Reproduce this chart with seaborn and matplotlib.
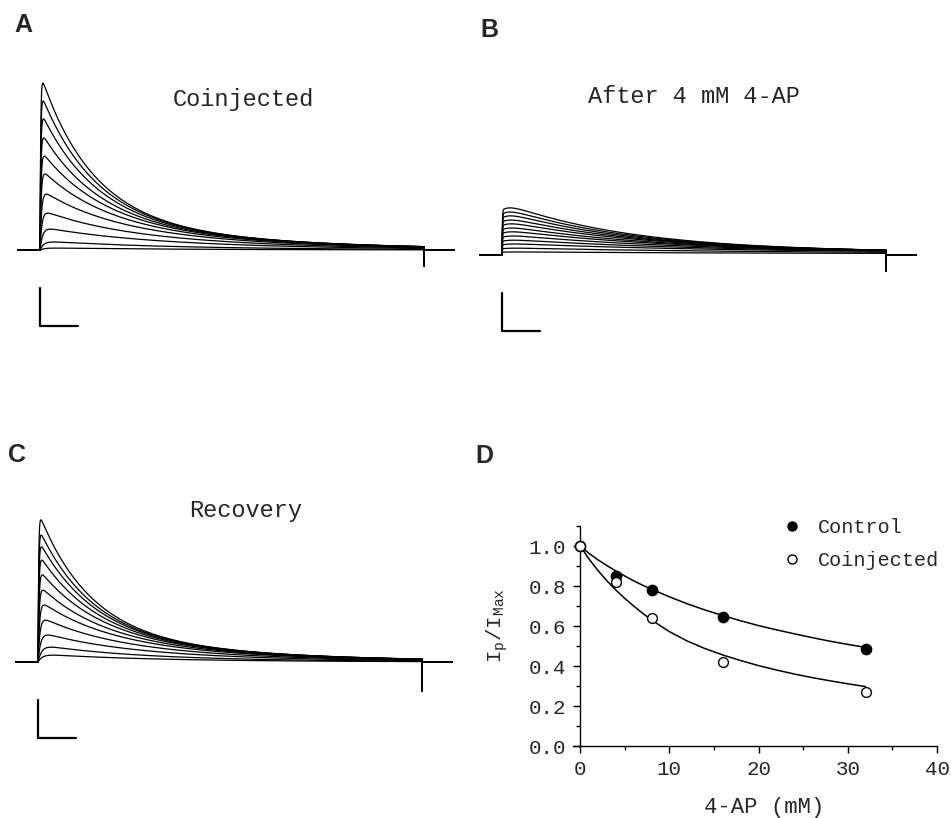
import numpy as np
import pandas as pd
import matplotlib
matplotlib.use("Agg")
import matplotlib.pyplot as plt
from matplotlib.lines import Line2D
from matplotlib.ticker import MultipleLocator, FormatStrFormatter
import seaborn as sns

# --- Panneaux A-C : familles de courants (uA), pulse de 500 ms ---
pulse_ms = 500
t_pre, t_post = -30, 540
bar_ms, bar_uA = 50, 1.0   # barre d'echelle

# A : Coinjected
peaks_A = [4.39, 3.92, 3.45, 2.95, 2.47, 2.0, 1.47, 0.97, 0.55, 0.21, 0.05]
rise_A = [0.8, 0.9, 1.0, 1.1, 1.3, 1.5, 2.0, 2.5, 3.5, 5.0, 6.0]
tau_A = [65, 67, 69, 71, 74, 77, 82, 88, 95, 105, 115]
slow_A = [1.0, 0.99, 0.97, 0.95, 0.92, 0.86, 0.76, 0.60, 0.42, 0.18, 0.045]
tau_slow_A = 200
cap_A = -0.42

# B : apres 4 mM 4-AP
peaks_B = [1.24, 1.13, 1.03, 0.92, 0.82, 0.71, 0.61, 0.50, 0.39, 0.29, 0.18, 0.08]
rise_B = [10] * 12
tau_B = [170, 175, 180, 190, 200, 210, 225, 240, 260, 280, 300, 320]
slow_B = [0.05, 0.05, 0.05, 0.05, 0.05, 0.05, 0.05, 0.05, 0.05, 0.05, 0.04, 0.03]
tau_slow_B = 1e9
cap_B = -0.42

# C : Recovery
peaks_C = [3.74, 3.34, 3.03, 2.68, 2.29, 1.89, 1.50, 1.10, 0.71, 0.39, 0.18]
rise_C = [0.8, 0.9, 1.0, 1.1, 1.3, 1.5, 2.0, 2.5, 3.5, 5.0, 6.0]
tau_C = [65, 67, 69, 71, 74, 77, 82, 88, 95, 105, 115]
slow_C = [0.86, 0.85, 0.83, 0.81, 0.78, 0.73, 0.65, 0.52, 0.38, 0.20, 0.10]
tau_slow_C = 200
cap_C = -0.76

# --- Panneau D : dose-reponse ---
conc = [0, 4, 8, 16, 32]
control = [1.0, 0.85, 0.78, 0.645, 0.485]
coinjected = [1.0, 0.82, 0.64, 0.42, 0.27]
fit_x = [0, 1, 2, 3, 4, 5, 6, 7, 8, 10, 12, 14, 16, 18, 20, 22, 24, 26, 28, 30, 32]
fit_control = [1.0, 0.963, 0.931, 0.902, 0.875, 0.85, 0.826, 0.804, 0.784, 0.746,
               0.711, 0.68, 0.652, 0.626, 0.602, 0.581, 0.561, 0.542, 0.524, 0.508, 0.493]
fit_coinj = [1.0, 0.935, 0.877, 0.826, 0.78, 0.738, 0.70, 0.664, 0.63, 0.572,
             0.525, 0.487, 0.455, 0.427, 0.402, 0.38, 0.36, 0.342, 0.326, 0.311, 0.297]


def sweep_family(peaks, rise, tau, slow, tau_slow, cap, jump=0.0):
    t = np.linspace(0, pulse_ms, 1001)
    rows = []
    for k, (p, tr, tf, s) in enumerate(zip(peaks, rise, tau, slow)):
        frac = min(s / p, 1.0)
        r = 1 - jump * np.exp(-t / 0.4) - (1 - jump) * np.exp(-t / tr)
        shape = r * ((1 - frac) * np.exp(-t / tf) + frac * np.exp(-t / tau_slow))
        cur = p * shape / shape.max()
        tt = np.concatenate([[t_pre, 0], t, [pulse_ms, pulse_ms, t_post]])
        ii = np.concatenate([[0, 0], cur, [cap, 0, 0]])
        rows.append(pd.DataFrame({"t": tt, "I": ii, "sweep": k}))
    return pd.concat(rows, ignore_index=True)


sns.set_theme(style="white")
plt.rcParams["font.family"] = ["Liberation Mono", "DejaVu Sans Mono"]
plt.rcParams["mathtext.fontset"] = "custom"
plt.rcParams["mathtext.rm"] = "Liberation Mono"

W, H = 951, 818
fig = plt.figure(figsize=(W / 100, H / 100), dpi=100)


def px_axes(x0, y0, x1, y1):
    return fig.add_axes([x0 / W, 1 - y1 / H, (x1 - x0) / W, (y1 - y0) / H])


px_per_uA = 38
ylo, yhi = -2.3, 4.7


def trace_panel(x_step, y_base, df, title, tx, ty):
    x0 = x_step - 23
    ax = px_axes(x0, y_base - yhi * px_per_uA, x0 + 438, y_base - ylo * px_per_uA)
    sns.lineplot(data=df, x="t", y="I", units="sweep", estimator=None, sort=False,
                 color="black", lw=0.9, ax=ax, legend=False)
    ax.plot([0, 0, bar_ms], [-1.0, -1.0 - bar_uA, -1.0 - bar_uA], color="black", lw=1.6)
    ax.set_xlim(t_pre, t_post)
    ax.set_ylim(ylo, yhi)
    ax.set_axis_off()
    fig.text(tx / W, 1 - ty / H, title, ha="center", va="baseline", fontsize=17)
    return ax


trace_panel(40, 250, sweep_family(peaks_A, rise_A, tau_A, slow_A, tau_slow_A, cap_A),
            "Coinjected", 243, 106)
trace_panel(502, 255, sweep_family(peaks_B, rise_B, tau_B, slow_B, tau_slow_B, cap_B, jump=0.85),
            "After 4 mM 4-AP", 694, 103)
trace_panel(38, 662, sweep_family(peaks_C, rise_C, tau_C, slow_C, tau_slow_C, cap_C),
            "Recovery", 246, 517)

# lettres des panneaux
for lab, x, y in [("A", 14, 32), ("B", 480, 37), ("C", 8, 462), ("D", 475, 463)]:
    fig.text(x / W, 1 - y / H, lab, fontsize=18, fontweight="bold",
             family="Liberation Sans", va="baseline", ha="left")

# --- D ---
axD = px_axes(573, 526, 937, 746)
sns.lineplot(x=fit_x, y=fit_control, color="black", lw=1.1, ax=axD)
sns.lineplot(x=fit_x, y=fit_coinj, color="black", lw=1.1, ax=axD)
sns.scatterplot(x=conc, y=control, color="black", edgecolor="black", s=55,
                linewidth=1, ax=axD, zorder=3, clip_on=False)
sns.scatterplot(x=conc, y=coinjected, color="white", edgecolor="black", s=50,
                linewidth=1, ax=axD, zorder=3, clip_on=False)
axD.set_xlim(-0.8, 40)
axD.set_ylim(0, 1.1)
axD.spines["left"].set_position(("data", 0))
axD.spines["top"].set_visible(False)
axD.spines["right"].set_visible(False)
for s in ["left", "bottom"]:
    axD.spines[s].set_linewidth(1.0)
    axD.spines[s].set_color("black")
axD.xaxis.set_major_locator(MultipleLocator(10))
axD.xaxis.set_minor_locator(MultipleLocator(5))
axD.yaxis.set_major_locator(MultipleLocator(0.2))
axD.yaxis.set_minor_locator(MultipleLocator(0.1))
axD.yaxis.set_major_formatter(FormatStrFormatter("%.1f"))
axD.tick_params(which="both", direction="out", color="black", width=1.0,
                bottom=True, left=True)
axD.tick_params(which="major", length=5, labelsize=15, pad=5)
axD.tick_params(which="minor", length=3)
axD.set_xlabel("4-AP (mM)", fontsize=16)
axD.set_ylabel(r"$\mathrm{I_p/I_{Max}}$", fontsize=15)
axD.xaxis.set_label_coords((764 - 573) / 364, (746 - 797) / 220)
axD.yaxis.set_label_coords((510 - 573) / 364, (746 - 626) / 220)

handles = [Line2D([], [], marker="o", ls="none", mfc="black", mec="black", ms=6.5),
           Line2D([], [], marker="o", ls="none", mfc="white", mec="black", ms=6.5)]
axD.legend(handles, ["Control", "Coinjected"], loc="upper left",
           bbox_to_anchor=(784 / W, 1 - 518 / H), bbox_transform=fig.transFigure,
           frameon=False, handlelength=0.8, handletextpad=0.9, labelspacing=0.7,
           borderaxespad=0, borderpad=0, fontsize=14.5)

fig.savefig("out.png", dpi=100, facecolor="white")
